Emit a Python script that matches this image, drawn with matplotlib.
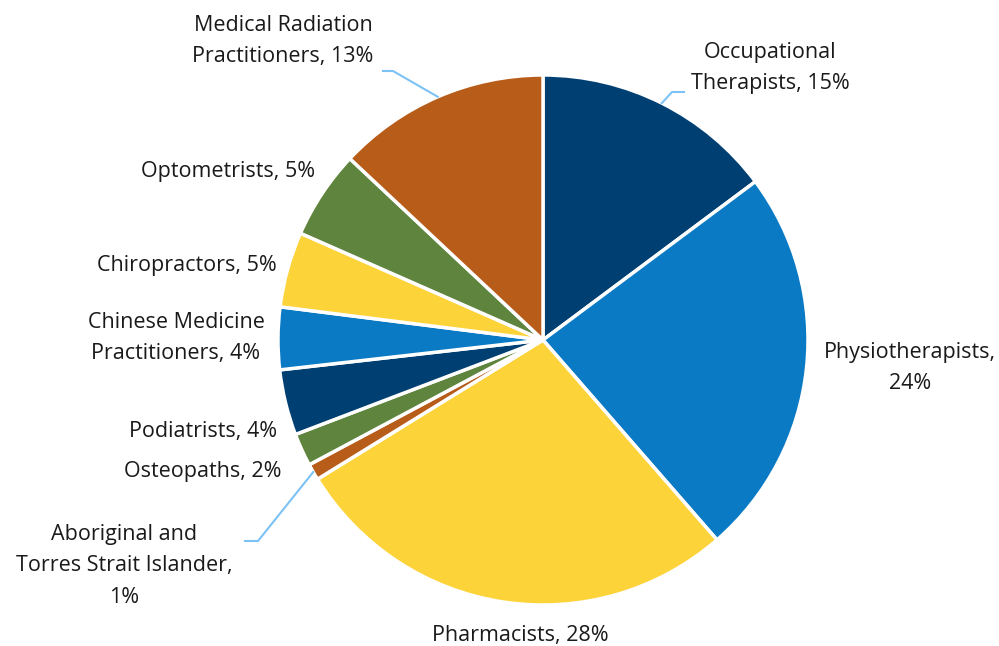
import matplotlib.pyplot as plt
import numpy as np

plt.rcParams['font.family'] = ['Open Sans', 'DejaVu Sans']

professions = ['Occupational\nTherapists', 'Physiotherapists,\n', 'Pharmacists',
               'Aboriginal and\nTorres Strait Islander,\n', 'Osteopaths', 'Podiatrists',
               'Chinese Medicine\nPractitioners', 'Chiropractors', 'Optometrists',
               'Medical Radiation\nPractitioners']
shares = [14.8, 23.8, 27.6, 1.0, 2.0, 4.0, 3.8, 4.6, 5.4, 13.0]
colors = ['#003F72', '#0A7AC4', '#FDD33A', '#B85C1A', '#5E843D',
          '#003F72', '#0A7AC4', '#FDD33A', '#5E843D', '#B85C1A']

# label centres in pixels (layout only)
label_px = [(770, 68), (910, 368), (520, 636), (124, 566), (203, 471),
            (203, 432), (176, 338), (187, 265), (228, 172), (283, 41)]
# slices whose labels get a leader line: index -> elbow points in px
leaders = {0: [(684, 92), (672, 92)], 3: [(245, 541), (258, 541)], 9: [(383, 71), (393, 71)]}

W, H = 999, 646
cx, cy, r = 543, 340, 265
fig = plt.figure(figsize=(W / 100, H / 100), dpi=100)
ax = fig.add_axes([(cx - r) / W, (H - cy - r) / H, 2 * r / W, 2 * r / H])

wedges, _ = ax.pie(shares, colors=colors, startangle=90, counterclock=False,
                   wedgeprops=dict(edgecolor='white', linewidth=2.5))
ax.set_xlim(-1, 1)
ax.set_ylim(-1, 1)
ax.axis('off')


def to_data(p):
    return ((p[0] - cx) / r, (cy - p[1]) / r)


total = sum(shares)
for i, (name, val) in enumerate(zip(professions, shares)):
    pct = f'{round(val / total * 100)}%'
    if name.endswith('\n'):
        txt = name + pct
    else:
        txt = f'{name}, {pct}'
    x, y = to_data(label_px[i])
    ax.text(x, y, txt, ha='center', va='center', fontsize=15.5, linespacing=1.65,
            color='#1a1a1a', multialignment='center', clip_on=False)
    if i in leaders:
        w = wedges[i]
        mid = np.deg2rad((w.theta1 + w.theta2) / 2)
        pts = [to_data(p) for p in leaders[i]] + [(np.cos(mid), np.sin(mid))]
        xs, ys = zip(*pts)
        ax.plot(xs, ys, color='#7DC2F5', lw=1.5, clip_on=False)

fig.savefig('out.png', dpi=100)
